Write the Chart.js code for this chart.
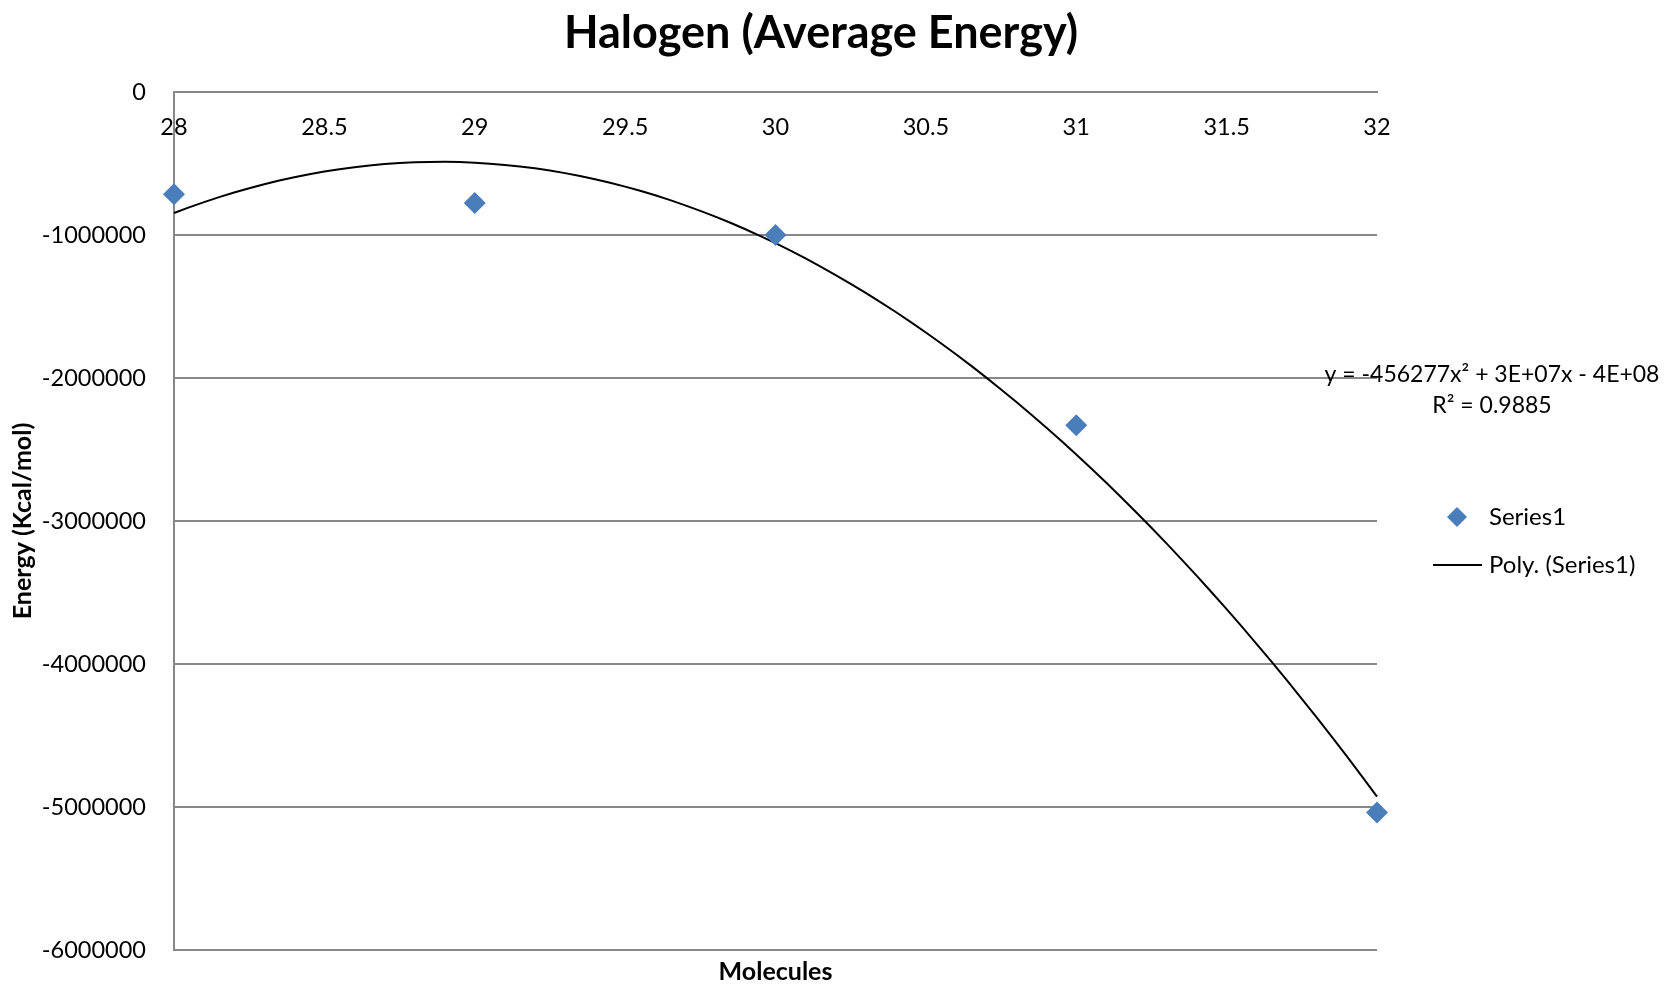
<!DOCTYPE html>
<html>
<head>
<meta charset="utf-8">
<title>Halogen (Average Energy)</title>
<script src="https://cdn.jsdelivr.net/npm/chart.js@4.4.1/dist/chart.umd.min.js"></script>
<style>
html,body{margin:0;padding:0;background:#fff;}
#wrap{width:1665px;height:984px;position:relative;}
</style>
</head>
<body>
<div id="wrap"><canvas id="halogenChart"></canvas></div>
<script>
// ---- data ----
const molecules = [28, 29, 30, 31, 32]
const energy = [-715000, -776000, -1000000, -2330000, -5039000]

const xTicks = [28, 28.5, 29, 29.5, 30, 30.5, 31, 31.5, 32]
const yTicks = [0, -1000000, -2000000, -3000000, -4000000, -5000000, -6000000]

const equationText = ["y = -456277x\u00b2 + 3E+07x - 4E+08", "R\u00b2 = 0.9885"]

const FONT = "Lato, 'Open Sans', sans-serif"

// 2nd order least squares fit (what the Excel "Poly." trendline is)
function polyFit2(xs, ys) {
  let s = [0,0,0,0,0], t = [0,0,0]
  for (let i = 0; i < xs.length; i++) {
    const x = xs[i] - 30
    for (let k = 0; k < 5; k++) s[k] += Math.pow(x, k)
    for (let k = 0; k < 3; k++) t[k] += ys[i] * Math.pow(x, k)
  }
  const m = [[s[0],s[1],s[2],t[0]],[s[1],s[2],s[3],t[1]],[s[2],s[3],s[4],t[2]]]
  for (let c = 0; c < 3; c++) {
    for (let r = c+1; r < 3; r++) {
      const f = m[r][c] / m[c][c]
      for (let k = c; k < 4; k++) m[r][k] -= f * m[c][k]
    }
  }
  const b = [0,0,0]
  for (let r = 2; r >= 0; r--) {
    let v = m[r][3]
    for (let k = r+1; k < 3; k++) v -= m[r][k] * b[k]
    b[r] = v / m[r][r]
  }
  return x => b[0] + b[1]*(x-30) + b[2]*(x-30)*(x-30)
}

const fit = polyFit2(molecules, energy)
const trend = []
for (let i = 0; i <= 80; i++) {
  const x = 28 + i * 0.05
  trend.push({x: x, y: fit(x)})
}

// titles, equation and legend drawn like the Excel layout
const excelText = {
  id: "excelText",
  afterDraw(chart) {
    const ctx = chart.ctx
    const a = chart.chartArea
    ctx.save()
    ctx.fillStyle = "#000"
    ctx.textAlign = "center"
    ctx.textBaseline = "middle"

    ctx.font = "bold 45px " + FONT
    ctx.fillText("Halogen (Average Energy)", 821, 33)

    ctx.font = "bold 25px " + FONT
    ctx.fillText("Molecules", (a.left + a.right) / 2, 972)

    ctx.font = "23px " + FONT
    ctx.fillText(equationText[0], 1492, 375)
    ctx.fillText(equationText[1], 1492, 406)

    // legend
    ctx.textAlign = "left"
    ctx.fillStyle = "#4A7EBB"
    ctx.beginPath()
    ctx.moveTo(1457, 507); ctx.lineTo(1467, 517); ctx.lineTo(1457, 527); ctx.lineTo(1447, 517)
    ctx.closePath()
    ctx.fill()
    ctx.strokeStyle = "#000"
    ctx.lineWidth = 2
    ctx.beginPath()
    ctx.moveTo(1433, 565); ctx.lineTo(1482, 565)
    ctx.stroke()
    ctx.fillStyle = "#000"
    ctx.font = "24px " + FONT
    ctx.fillText("Series1", 1489, 517)
    ctx.fillText("Poly. (Series1)", 1489, 565)
    ctx.restore()
  }
}

new Chart(document.getElementById("halogenChart"), {
  type: "scatter",
  data: {
    datasets: [
      {
        label: "Series1",
        data: molecules.map((m, i) => ({x: m, y: energy[i]})),
        pointStyle: "rectRot",
        pointRadius: 11,
        pointBackgroundColor: "#4A7EBB",
        pointBorderColor: "#4A7EBB",
        pointBorderWidth: 0,
        showLine: false,
        clip: false,
        order: 0
      },
      {
        label: "Poly. (Series1)",
        data: trend,
        showLine: true,
        borderColor: "#000",
        borderWidth: 2,
        pointRadius: 0,
        tension: 0,
        clip: false,
        order: 1
      }
    ]
  },
  options: {
    responsive: true,
    maintainAspectRatio: false,
    animation: false,
    layout: {padding: {left: 0, top: 92, right: 288, bottom: 34}},
    plugins: {
      legend: {display: false},
      tooltip: {enabled: false}
    },
    scales: {
      x: {
        type: "linear",
        position: {y: 0},
        min: 28,
        max: 32,
        afterBuildTicks: s => { s.ticks = xTicks.map(v => ({value: v})) },
        afterFit: s => { s.height = 0; s.paddingLeft = 0; s.paddingRight = 0; s.paddingTop = 0; s.paddingBottom = 0 },
        ticks: {
          color: "#000",
          font: {family: FONT, size: 23.5},
          padding: 21,
          maxRotation: 0,
          callback: v => String(v)
        },
        grid: {display: false, drawTicks: false},
        border: {display: true, color: "#888", width: 2}
      },
      y: {
        min: -6000000,
        max: 0,
        afterBuildTicks: s => { s.ticks = yTicks.map(v => ({value: v})) },
        afterFit: s => { s.width = 174; s.paddingTop = 0; s.paddingBottom = 0 },
        ticks: {
          color: "#000",
          font: {family: FONT, size: 23.5},
          padding: 28,
          callback: v => String(v)
        },
        grid: {color: "#888", lineWidth: 2, drawTicks: false},
        border: {display: true, color: "#888", width: 2},
        title: {
          display: true,
          text: "Energy (Kcal/mol)",
          color: "#000",
          font: {family: FONT, size: 25, weight: "bold"},
          padding: {top: 8, bottom: 0}
        }
      }
    }
  },
  plugins: [excelText]
})
</script>
</body>
</html>
